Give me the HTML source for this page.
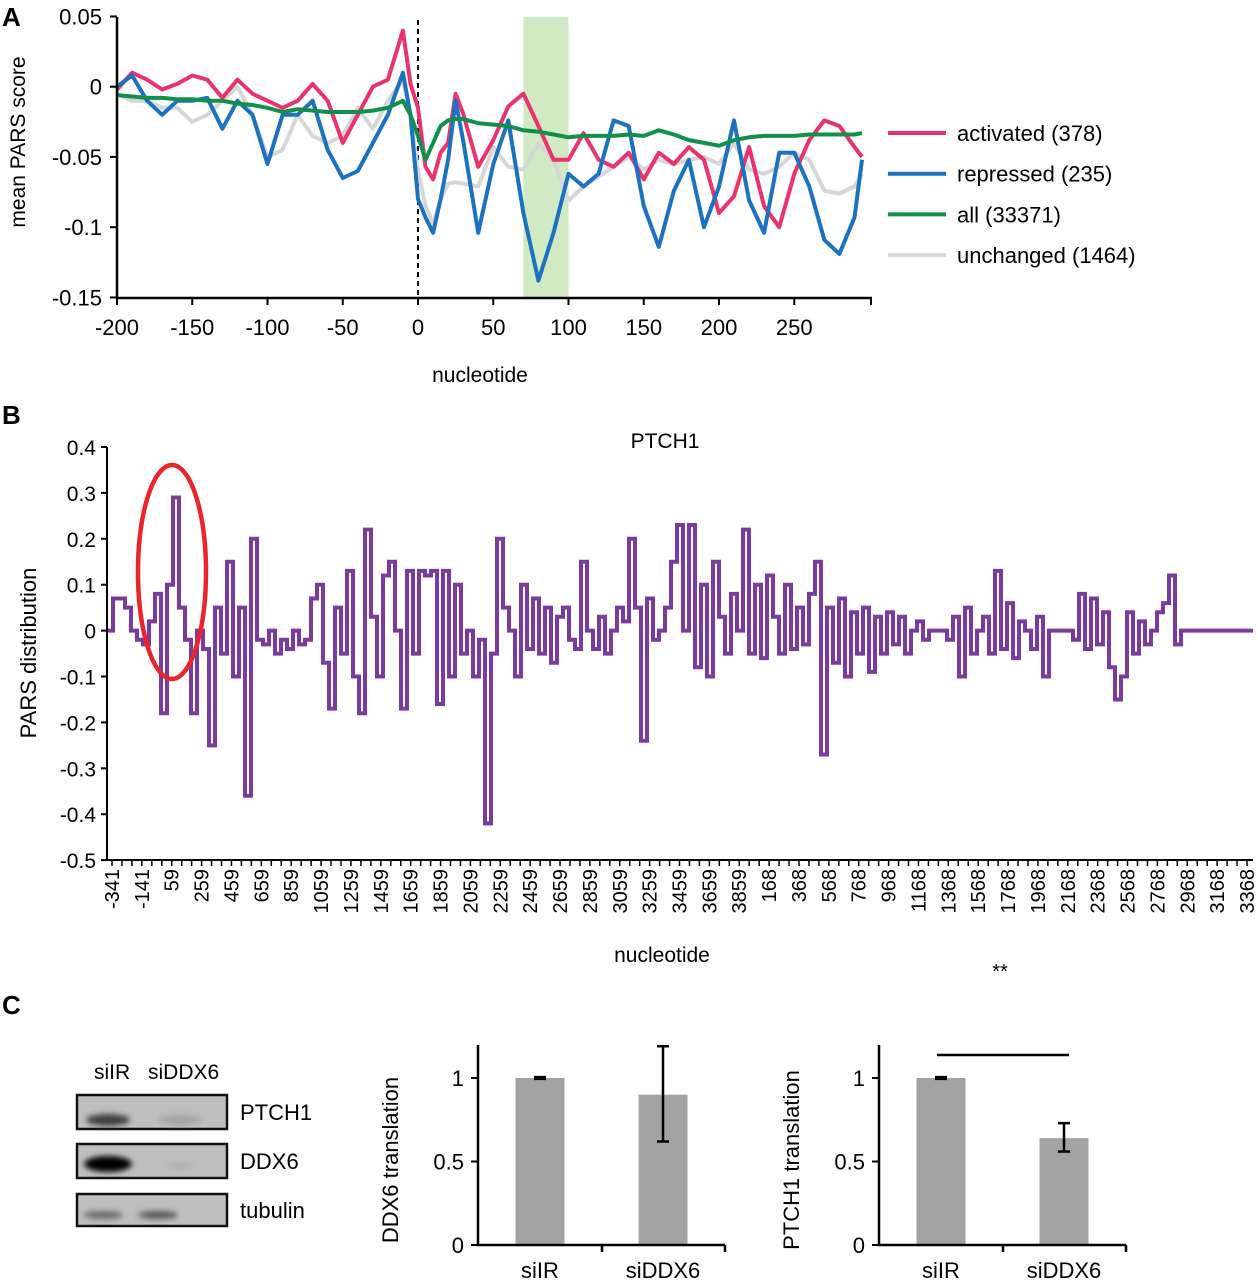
<!DOCTYPE html>
<html><head><meta charset="utf-8"><style>
body{margin:0;background:#fff;}
svg text{font-family:"Liberation Sans",Arial,sans-serif;fill:#000;}
</style></head><body>
<svg id="fig" width="1258" height="1280" viewBox="0 0 1258 1280" xmlns="http://www.w3.org/2000/svg">
<g id="pA"></g>
<g id="pB"></g>
<g id="pC"></g>
</svg>
<script>
// ---------- Panel A data ----------
const ntsA = [-200,-190,-180,-170,-160,-150,-140,-130,-120,-110,-100,-90,-80,-70,-60,-50,-40,-30,-20,-10,-5,0,5,10,15,20,25,30,40,50,60,70,80,90,100,110,120,130,140,150,160,170,180,190,200,210,220,230,240,250,260,270,280,290,295];
const activated = [-0.002,0.01,0.005,-0.002,0.002,0.008,0.005,-0.008,0.005,-0.005,-0.01,-0.015,-0.01,0.002,-0.01,-0.04,-0.02,0,0.005,0.04,0.002,-0.015,-0.057,-0.066,-0.047,-0.04,-0.005,-0.019,-0.057,-0.038,-0.014,-0.005,-0.028,-0.052,-0.052,-0.033,-0.052,-0.057,-0.047,-0.066,-0.047,-0.055,-0.043,-0.052,-0.09,-0.078,-0.043,-0.085,-0.1,-0.062,-0.038,-0.024,-0.028,-0.043,-0.05];
const repressed = [0,0.008,-0.01,-0.02,-0.01,-0.01,-0.008,-0.03,-0.01,-0.02,-0.055,-0.02,-0.02,-0.01,-0.045,-0.065,-0.06,-0.04,-0.02,0.01,-0.02,-0.08,-0.093,-0.104,-0.08,-0.052,-0.01,-0.038,-0.104,-0.055,-0.024,-0.09,-0.138,-0.104,-0.062,-0.071,-0.062,-0.024,-0.028,-0.085,-0.114,-0.074,-0.052,-0.1,-0.071,-0.024,-0.081,-0.104,-0.047,-0.047,-0.071,-0.109,-0.119,-0.093,-0.052];
const allGenes = [-0.006,-0.007,-0.008,-0.008,-0.009,-0.009,-0.01,-0.01,-0.012,-0.013,-0.015,-0.018,-0.016,-0.017,-0.018,-0.018,-0.018,-0.017,-0.015,-0.01,-0.02,-0.035,-0.052,-0.04,-0.028,-0.024,-0.023,-0.023,-0.026,-0.027,-0.028,-0.031,-0.032,-0.034,-0.036,-0.035,-0.035,-0.035,-0.034,-0.035,-0.031,-0.034,-0.038,-0.04,-0.042,-0.038,-0.036,-0.035,-0.035,-0.035,-0.034,-0.034,-0.034,-0.034,-0.033];
const unchanged = [-0.005,-0.01,-0.01,-0.015,-0.015,-0.025,-0.02,-0.01,0,-0.02,-0.05,-0.045,-0.02,-0.035,-0.04,-0.035,-0.015,-0.03,-0.01,0.005,-0.02,-0.06,-0.085,-0.097,-0.08,-0.069,-0.068,-0.069,-0.071,-0.043,-0.057,-0.059,-0.04,-0.052,-0.081,-0.071,-0.064,-0.057,-0.05,-0.059,-0.052,-0.055,-0.052,-0.05,-0.055,-0.04,-0.059,-0.062,-0.057,-0.047,-0.052,-0.074,-0.076,-0.071,-0.062];
const xTicksA = [-200,-150,-100,-50,0,50,100,150,200,250];
const yTicksA = [0.05,0,-0.05,-0.1,-0.15];
const yTickLabelsA = ["0.05","0","-0.05","-0.1","-0.15"];
const legendA = ["activated (378)","repressed (235)","all (33371)","unchanged (1464)"];
const highlightA = [70,100];

// ---------- Panel B data ----------
const ptch1Values = [0,0.07,0.07,0.05,0,-0.02,-0.03,0.02,0.08,-0.18,0.1,0.29,0.05,-0.02,-0.18,0,-0.04,-0.25,0.05,-0.05,0.15,-0.1,0.05,-0.36,0.2,-0.02,-0.03,0,-0.05,-0.02,-0.04,0,-0.03,-0.02,0.07,0.1,-0.07,-0.17,0.05,-0.05,0.13,-0.1,-0.18,0.22,0.03,-0.1,0.12,0.15,0,-0.17,0.13,-0.05,0.13,0.12,0.13,-0.16,0.13,-0.1,0.1,-0.05,0,-0.1,-0.02,-0.42,-0.05,0.2,0.05,0,-0.1,0.1,-0.04,0.07,-0.05,0.05,-0.07,0.03,0.05,-0.02,-0.04,0.15,0,-0.04,0.03,-0.05,0,0.05,0.02,0.2,0.05,-0.24,0.07,-0.02,0,0.05,0.15,0.23,0,0.23,-0.08,0.1,-0.1,0.15,0.03,-0.05,0.08,0,0.22,-0.05,0.1,-0.06,0.12,0.03,-0.05,0.1,-0.04,0.05,-0.03,0.08,0.15,-0.27,0.05,-0.07,0.07,-0.1,0.04,-0.05,0.05,-0.09,0.03,-0.05,0.04,-0.03,0.03,-0.05,0,0.02,-0.02,0,0,0,-0.02,0.03,-0.1,0.05,-0.05,0,0.03,-0.05,0.13,-0.04,0.06,-0.06,0.02,0,-0.04,0.03,-0.1,0,0,0,0,-0.02,0.08,-0.04,0.07,-0.03,0.04,-0.08,-0.15,-0.1,0.04,-0.05,0.02,-0.03,0,0.04,0.06,0.12,-0.03,0,0,0,0,0,0,0,0,0,0,0,0];
const xTickLabelsB = ["-341","-141","59","259","459","659","859","1059","1259","1459","1659","1859","2059","2259","2459","2659","2859","3059","3259","3459","3659","3859","168","368","568","768","968","1168","1368","1568","1768","1968","2168","2368","2568","2768","2968","3168","3368"];
const yTicksB = [0.4,0.3,0.2,0.1,0,-0.1,-0.2,-0.3,-0.4,-0.5];
const yTickLabelsB = ["0.4","0.3","0.2","0.1","0","-0.1","-0.2","-0.3","-0.4","-0.5"];

// ---------- Panel C data ----------
const barCats = ["siIR","siDDX6"];
const ddx6Vals = [1,0.9];
const ddx6ErrLo = [0.995,0.62];
const ddx6ErrHi = [1.005,1.19];
const ptch1Vals = [1,0.64];
const ptch1ErrLo = [0.995,0.56];
const ptch1ErrHi = [1.005,0.73];
const yTicksC = [0,0.5,1];
const yTickLabelsC = ["0","0.5","1"];

const NS="http://www.w3.org/2000/svg";
function mk(parent,tag,attrs,text){const e=document.createElementNS(NS,tag);for(const k in attrs)e.setAttribute(k,attrs[k]);if(text!==undefined)e.textContent=text;parent.appendChild(e);return e;}

// ===== Panel A =====
(function(){
const g=document.getElementById('pA');
const X=v=>418+(v)*1.505, Y=v=>86.7-v*1405;
let t=mk(g,'text',{x:2,y:26,'font-size':26,'font-weight':'bold'},'A');


let band=mk(g,'rect',{x:X(highlightA[0]),y:17,width:X(highlightA[1])-X(highlightA[0]),height:281,fill:'#d2eac3'});


let dl=mk(g,'line',{x1:X(0),y1:20,x2:X(0),y2:298,stroke:'#000','stroke-width':2,'stroke-dasharray':'5,4'});


const series=[[unchanged,'#d6d6d6','series-unchanged'],[activated,'#e8336f','series-activated'],[repressed,'#1a72c0','series-repressed'],[allGenes,'#109048','series-all']];
series.forEach(s=>{let d=s[0].map((v,i)=>(i?'L':'M')+X(ntsA[i]).toFixed(1)+','+Y(v).toFixed(1)).join('');
 let p=mk(g,'path',{d:d,fill:'none',stroke:s[1],'stroke-width':4,'stroke-linejoin':'round'});
 
 });
let ax=mk(g,'path',{d:'M117,17V298H872',fill:'none',stroke:'#000','stroke-width':2.5});


yTicksA.forEach((v,i)=>{mk(g,'line',{x1:110,x2:117,y1:Y(v),y2:Y(v),stroke:'#000','stroke-width':2});
 let l=mk(g,'text',{x:102,y:Y(v)+8,'font-size':22,'text-anchor':'end'},yTickLabelsA[i]);
 
 });
xTicksA.forEach(v=>{mk(g,'line',{x1:X(v),x2:X(v),y1:298,y2:305,stroke:'#000','stroke-width':2});
 let l=mk(g,'text',{x:X(v),y:335,'font-size':22,'text-anchor':'middle'},String(v));
 
 });
mk(g,'line',{x1:871,x2:871,y1:298,y2:305,stroke:'#000','stroke-width':2});
let yl=mk(g,'text',{x:0,y:0,'font-size':21,'text-anchor':'middle',transform:'translate(25,142) rotate(-90)'},'mean PARS score');


let xl=mk(g,'text',{x:480,y:382,'font-size':21,'text-anchor':'middle'},'nucleotide');


const lc=['#e8336f','#1a72c0','#109048','#d6d6d6'];
legendA.forEach((s,i)=>{const y=133+i*40.7;
 let le=mk(g,'g',{});
 
 
 mk(le,'line',{x1:888,x2:946,y1:y,y2:y,stroke:lc[i],'stroke-width':4});
 mk(le,'text',{x:957,y:y+8,'font-size':22},s);});
})();

// ===== Panel B =====
(function(){
const g=document.getElementById('pB');
const Y=v=>630.6-v*459, X0=107, X1=1253, step=6;
let t=mk(g,'text',{x:2,y:424,'font-size':26,'font-weight':'bold'},'B');


let ti=mk(g,'text',{x:665,y:448,'font-size':21,'text-anchor':'middle'},'PTCH1');


let d='M'+X0+','+Y(ptch1Values[0]);
ptch1Values.forEach((v,i)=>{const x=X0+i*step;d+='L'+x+','+Y(v).toFixed(1)+'L'+(x+step)+','+Y(v).toFixed(1);});
d+='L'+X1+','+Y(0);
let p=mk(g,'path',{d:d,fill:'none',stroke:'#7b3a9e','stroke-width':4,'stroke-linejoin':'miter'});


let ax=mk(g,'path',{d:'M107,447V860H1253',fill:'none',stroke:'#000','stroke-width':2});


yTicksB.forEach((v,i)=>{mk(g,'line',{x1:101,x2:107,y1:Y(v),y2:Y(v),stroke:'#000','stroke-width':2});
 let l=mk(g,'text',{x:96,y:Y(v)+8,'font-size':21,'text-anchor':'end'},yTickLabelsB[i]);
 
 });
const sp=(1247-112)/(xTickLabelsB.length-1);
for(let k=0;k<=3*(xTickLabelsB.length-1)+1;k++){const x=112+k*sp/3;if(x>1254)break;mk(g,'line',{x1:x,x2:x,y1:860,y2:866,stroke:'#000','stroke-width':1.5});}
xTickLabelsB.forEach((s,i)=>{const x=112+i*sp;
 let l=mk(g,'text',{x:0,y:0,'font-size':20,'text-anchor':'end',transform:'translate('+(x+7)+',869) rotate(-90)'},s);
 
 });
let yl=mk(g,'text',{x:0,y:0,'font-size':22,'text-anchor':'middle',transform:'translate(36,653) rotate(-90)'},'PARS distribution');


let xl=mk(g,'text',{x:662,y:962,'font-size':21,'text-anchor':'middle'},'nucleotide');


let el=mk(g,'ellipse',{cx:172,cy:572,rx:34,ry:107,fill:'none',stroke:'#e8252a','stroke-width':4.5});


})();

// ===== Panel C =====
(function(){
const g=document.getElementById('pC');
let t=mk(g,'text',{x:2,y:1014,'font-size':26,'font-weight':'bold'},'C');


const defs=mk(g,'defs',{});
const f=mk(defs,'filter',{id:'blur',x:'-50%',y:'-100%',width:'200%',height:'300%'});
mk(f,'feGaussianBlur',{stdDeviation:3});
let l1=mk(g,'text',{x:94,y:1079,'font-size':21},'siIR');


let l2=mk(g,'text',{x:148,y:1079,'font-size':21},'siDDX6');


const rows=[['PTCH1',1095,1129],['DDX6',1144,1178],['tubulin',1194,1226]];
rows.forEach(r=>{let b=mk(g,'g',{});
 
 
 mk(b,'rect',{x:77,y:r[1],width:150,height:r[2]-r[1],fill:'#bfbfbf',stroke:'#111','stroke-width':2.5});
 mk(b,'text',{x:240,y:(r[1]+r[2])/2+8,'font-size':22},r[0]);});
const bands=[[108,1120,22,6,'#333',0.9],[180,1120,22,5,'#888',0.5],[108,1164,24,8,'#000',1],[180,1166,14,3,'#999',0.5],[103,1215,20,4,'#555',0.8],[158,1215,20,4,'#444',0.85]];
bands.forEach(b=>{let e=mk(g,'ellipse',{cx:b[0],cy:b[1],rx:b[2],ry:b[3],fill:b[4],opacity:b[5],filter:'url(#blur)'});
 
 });
function bars(ax0,vals,lo,hi,title,name){
 const Y=v=>1245-v*167, bw=49;
 const cx=[ax0+62,ax0+185];
 const cg=mk(g,'g',{});
 
 
 vals.forEach((v,i)=>{let r=mk(cg,'rect',{x:cx[i]-bw/2,y:Y(v),width:bw,height:Y(0)-Y(v),fill:'#a3a3a3'});
  
  
  let e=mk(cg,'path',{d:'M'+(cx[i]-6)+','+Y(hi[i])+'h12M'+cx[i]+','+Y(hi[i])+'V'+Y(lo[i])+'M'+(cx[i]-6)+','+Y(lo[i])+'h12',stroke:'#000','stroke-width':2.5,fill:'none'});
  
  
  let l=mk(cg,'text',{x:cx[i],y:1278,'font-size':22,'text-anchor':'middle'},barCats[i]);
  
  });
 mk(cg,'path',{d:'M'+ax0+',1045V1245H'+(ax0+247)+'M'+(ax0+124)+',1245v7M'+(ax0+247)+',1245v7',stroke:'#000','stroke-width':2.5,fill:'none'});
 yTicksC.forEach((v,i)=>{mk(cg,'line',{x1:ax0-7,x2:ax0,y1:Y(v),y2:Y(v),stroke:'#000','stroke-width':2});
  let l=mk(cg,'text',{x:ax0-14,y:Y(v)+8,'font-size':22,'text-anchor':'end'},yTickLabelsC[i]);
  
  });
 let yt=mk(cg,'text',{x:0,y:0,'font-size':22,'text-anchor':'middle',transform:'translate('+(ax0-80)+',1160) rotate(-90)'},title);
 
 
}
bars(478,ddx6Vals,ddx6ErrLo,ddx6ErrHi,'DDX6 translation','ddx6-bar-chart');
bars(879,ptch1Vals,ptch1ErrLo,ptch1ErrHi,'PTCH1  translation','ptch1-bar-chart');
let sl=mk(g,'line',{x1:937,x2:1069,y1:1055,y2:1055,stroke:'#000','stroke-width':2.5});


let st=mk(g,'text',{x:1000,y:978,'font-size':20,'text-anchor':'middle'},'**');


})();
</script>
</body></html>
